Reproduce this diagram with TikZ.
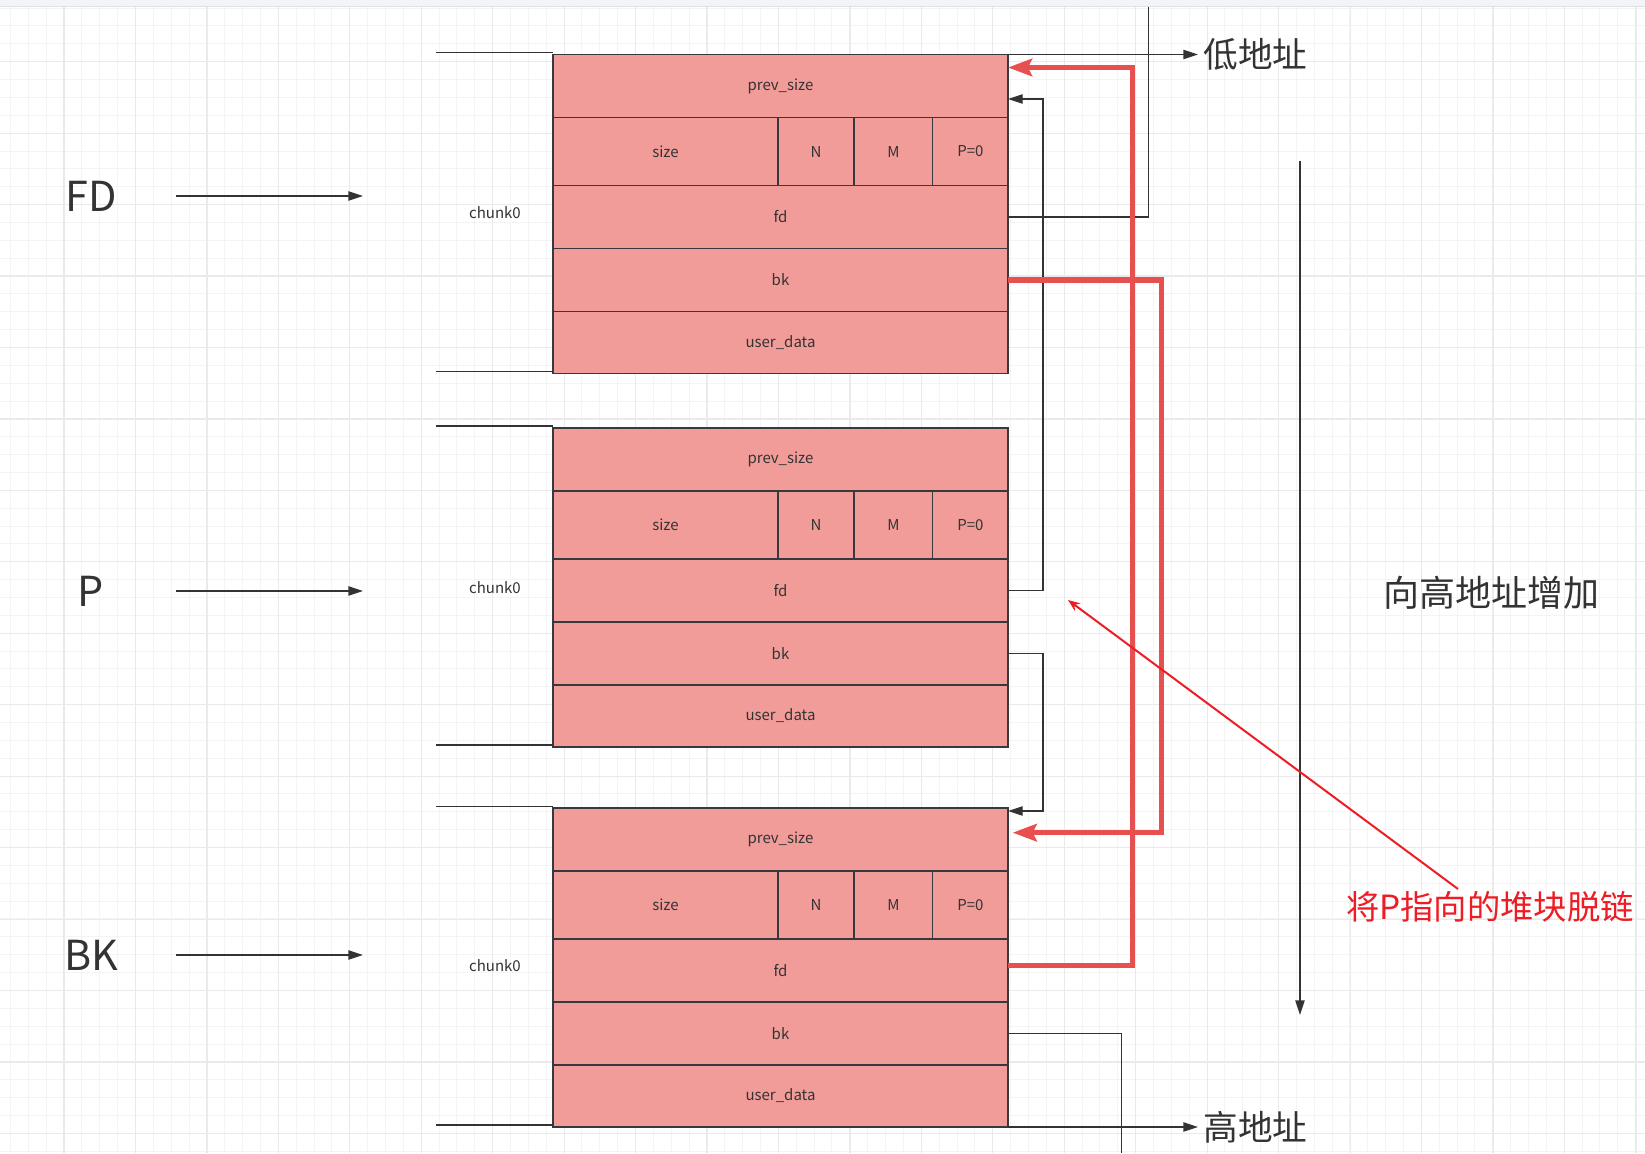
\documentclass[tikz,border=0pt]{standalone}
\usepackage{fontspec}
\setmainfont{Noto Sans CJK SC}
\usetikzlibrary{arrows.meta}
\definecolor{chunkfill}{HTML}{F19C99}
\definecolor{chunkline}{HTML}{36393D}
\definecolor{inkgrey}{HTML}{333333}
\definecolor{linkred}{HTML}{E85050}
\definecolor{notered}{HTML}{EE1C25}
\definecolor{gridminor}{HTML}{F4F4F4}
\definecolor{gridmajor}{HTML}{EAEAEA}
\definecolor{topband}{HTML}{F2F4F7}
\definecolor{topedge}{HTML}{DDE1E6}
\begin{document}
\begin{tikzpicture}[x=0.75pt, y=-0.75pt,
cell/.style={rectangle, draw=chunkline, fill=chunkfill, line width=1pt, inner sep=0pt, outer sep=0pt, anchor=north west, text=inkgrey, font=\fontsize{11.25}{13}\selectfont},
wide/.style={cell, minimum width=341.25pt, minimum height=47.25pt},
sizecell/.style={cell, minimum width=168.75pt, minimum height=51pt},
flagcell/.style={cell, minimum width=#1, minimum height=51pt},
tag/.style={text=inkgrey, font=\fontsize{11.25}{13}\selectfont},
ptrlabel/.style={text=inkgrey, font=\fontsize{31}{36}\selectfont, inner sep=0pt},
biglabel/.style={text=inkgrey, font=\fontsize{26}{30}\selectfont, inner sep=4pt},
link/.style={draw=inkgrey, line width=1pt, -{Triangle[length=11pt,width=7pt]}},
plainlink/.style={draw=inkgrey, line width=1pt},
redlink/.style={draw=linkred, line width=3.9pt, line join=miter, -{Stealth[length=18pt,width=13pt,inset=3pt]}},
notelink/.style={draw=notered, line width=1.5pt, -{Stealth[length=9pt,width=7pt]}}]

  % background grid
  \useasboundingbox (0,0) rectangle (1645,1153);
  \fill[white] (0,0) rectangle (1645,1153);
  \foreach \gx in {10.42,28.28,...,1645} \draw[gridminor, line width=0.75pt] (\gx,7) -- (\gx,1153);
  \foreach \gy in {8.12,25.98,...,1153} \draw[gridminor, line width=0.75pt] (0,\gy) -- (1645,\gy);
  \foreach \gx in {64,135.45,...,1645} \draw[gridmajor, line width=0.9pt] (\gx,7) -- (\gx,1153);
  \foreach \gy in {61.7,133.15,...,1153} \draw[gridmajor, line width=0.9pt] (0,\gy) -- (1645,\gy);
  \fill[topband] (0,0) rectangle (1645,6.5);
  \draw[topedge, line width=0.75pt] (0,6.5) -- (1645,6.5);

  % chunk 1
  \node (c1prev) [wide] at (553,54.5) {prev\_size};
  \node (c1size) [sizecell] at (553,117.5) {size};
  \node (c1n) [flagcell=57pt] at (778,117.5) {N};
  \node (c1m) [flagcell=59pt] at (854,117.5) {M};
  \node (c1p) [flagcell=56.5pt] at (932.67,117.5) {P=0};
  \node (c1fd) [wide] at (553,185.5) {fd};
  \node (c1bk) [wide] at (553,248.5) {bk};
  \node (c1ud) [wide, minimum height=46.5pt] at (553,311.5) {user\_data};

  % chunk 2
  \node (c2prev) [wide] at (553,428) {prev\_size};
  \node (c2size) [sizecell] at (553,491) {size};
  \node (c2n) [flagcell=57pt] at (778,491) {N};
  \node (c2m) [flagcell=59pt] at (854,491) {M};
  \node (c2p) [flagcell=56.5pt] at (932.67,491) {P=0};
  \node (c2fd) [wide] at (553,559) {fd};
  \node (c2bk) [wide] at (553,622) {bk};
  \node (c2ud) [wide, minimum height=46.5pt] at (553,685) {user\_data};

  % chunk 3
  \node (c3prev) [wide] at (553,808) {prev\_size};
  \node (c3size) [sizecell] at (553,871) {size};
  \node (c3n) [flagcell=57pt] at (778,871) {N};
  \node (c3m) [flagcell=59pt] at (854,871) {M};
  \node (c3p) [flagcell=56.5pt] at (932.67,871) {P=0};
  \node (c3fd) [wide] at (553,939) {fd};
  \node (c3bk) [wide] at (553,1002) {bk};
  \node (c3ud) [wide, minimum height=46.5pt] at (553,1065) {user\_data};

  % left brackets and names
  \coordinate (c1tl) at (436,52.5);
  \coordinate (c1bl) at (436,371.5);
  \coordinate (c2tl) at (436,426);
  \coordinate (c2bl) at (436,745);
  \coordinate (c3tl) at (436,806.5);
  \coordinate (c3bl) at (436,1125);
  \draw[plainlink] (c1tl) -- (c1tl -| c1prev.west);
  \draw[plainlink] (c1bl) -- (c1bl -| c1ud.west);
  \draw[plainlink] (c2tl) -- (c2tl -| c2prev.west);
  \draw[plainlink] (c2bl) -- (c2bl -| c2ud.west);
  \draw[plainlink] (c3tl) -- (c3tl -| c3prev.west);
  \draw[plainlink] (c3bl) -- (c3bl -| c3ud.west);
  \node (c1tag) [tag] at (495,213) {chunk0};
  \node (c2tag) [tag] at (495,587.5) {chunk0};
  \node (c3tag) [tag] at (495,966) {chunk0};

  % pointers
  \node (fdl) [ptrlabel] at (91,196) {FD};
  \node (pl) [ptrlabel] at (91,591) {P};
  \node (bkl) [ptrlabel] at (91,955) {BK};
  \coordinate (fdtail) at (176,196);
  \coordinate (fdhead) at (363,196);
  \coordinate (ptail) at (176,591);
  \coordinate (phead) at (363,591);
  \coordinate (bktail) at (176,955);
  \coordinate (bkhead) at (363,955);
  \draw[link] (fdtail) -- (fdhead);
  \draw[link] (ptail) -- (phead);
  \draw[link] (bktail) -- (bkhead);

  % address labels
  \node (low) [biglabel, anchor=west] at (1198,54.5) {低地址};
  \node (high) [biglabel, anchor=west] at (1198,1127) {高地址};
  \draw[link] (c1prev.north east) -- (low.west);
  \draw[link] (c3ud.south east) -- (high.west);
  \coordinate (vtop) at (1300,160.5);
  \coordinate (vbot) at (1300,1015);
  \draw[link] (vtop) -- (vbot);
  \node (grow) [biglabel, font=\fontsize{27}{31}\selectfont] at (1491,593) {向高地址增加};

  % list links
  \coordinate (topend) at (1148.7,7);
  \coordinate (botend) at (1121.7,1153);
  \draw[plainlink] (c1fd.east) -| (topend);
  \draw[plainlink] (c3bk.east) -| (botend);
  \draw[link] (c2fd.east) -- ++(35,0) |- ([yshift=-9.75pt]c1prev.east);
  \draw[link] (c2bk.east) -- ++(35,0) |- ([yshift=-2.25pt]c3prev.north east);

  % unlink
  \draw[redlink] ([yshift=3.75pt]c3fd.east) -- ++(124.7,0) |- ([yshift=-9.75pt]c1prev.north east);
  \draw[redlink, shorten >=3.5pt] (c1bk.east) -- ++(153.7,0) |- ([yshift=-18.5pt]c3prev.north east);
  \node (note) [biglabel, text=notered, font=\fontsize{25}{29}\selectfont] at (1490,907) {将P指向的堆块脱链};
  \coordinate (notetail) at (1458,889);
  \coordinate (notehead) at (1068,600);
  \draw[notelink] (notetail) -- (notehead);

\end{tikzpicture}
\end{document}
